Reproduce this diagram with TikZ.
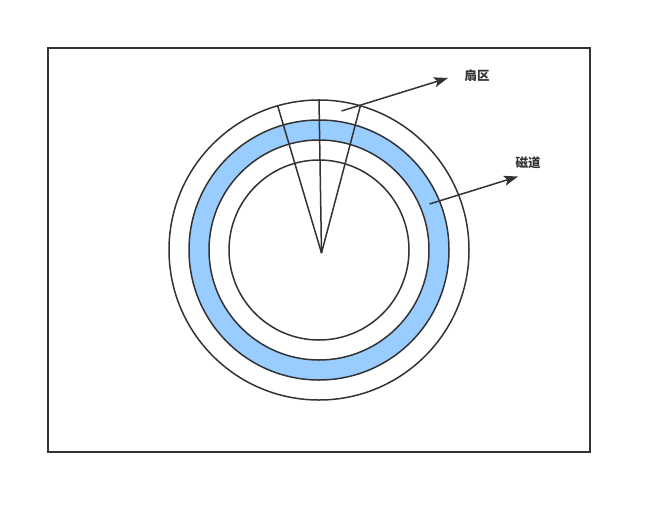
\documentclass[tikz,border=0pt]{standalone}
\usepackage{fontspec}
\newfontfamily\cjk{Noto Sans CJK SC}
\usetikzlibrary{arrows.meta}
\definecolor{trackblue}{HTML}{99CCFF}
\definecolor{linegray}{HTML}{333333}
\tikzstyle{disc} = [
    circle,
    draw=linegray,
    line width=1.5pt,
    fill=white,
    inner sep=0pt
]
\tikzstyle{tag} = [
    font=\cjk\bfseries\fontsize{12.5}{14}\selectfont,
    text=linegray
]
\tikzstyle{pointer} = [
    -{Stealth[length=14pt,width=10pt,inset=3pt]},
    line width=1.5pt,
    draw=linegray
]
\tikzstyle{spoke} = [
    line width=1.5pt,
    draw=linegray
]
\begin{document}
\begin{tikzpicture}[x=1pt, y=-1pt]
        \useasboundingbox (0,0) rectangle (652,514);
        % Frame
        \draw[linegray, line width=1.5pt] (48,48) rectangle (590,452);

        % Disk
        \coordinate (ctr) at (319,250);
        \node[disc, minimum size=300pt] (outer) at (ctr) {};
        \node[disc, minimum size=260pt, fill=trackblue] (track) at (ctr) {};
        \node[disc, minimum size=220pt] (middle) at (ctr) {};
        \node[disc, minimum size=180pt] (inner) at (ctr) {};

        % Sector
        \coordinate (apex) at (321.5,253);
        \draw[spoke] (apex) -- (outer.106);
        \draw[spoke] (apex) -- (outer.90);
        \draw[spoke] (apex) -- (outer.74);

        % Labels
        \node[tag] (sector) at (477,76) {扇区};
        \node[tag] (trk) at (528,163) {磁道};

        % Arrows
        \coordinate (sfoot) at (341.5,111);
        \coordinate (tfoot) at (429.5,204);
        \draw[pointer] (sfoot) -- (448,78);
        \draw[pointer] (tfoot) -- (518,176.5);
    \end{tikzpicture}
\end{document}
